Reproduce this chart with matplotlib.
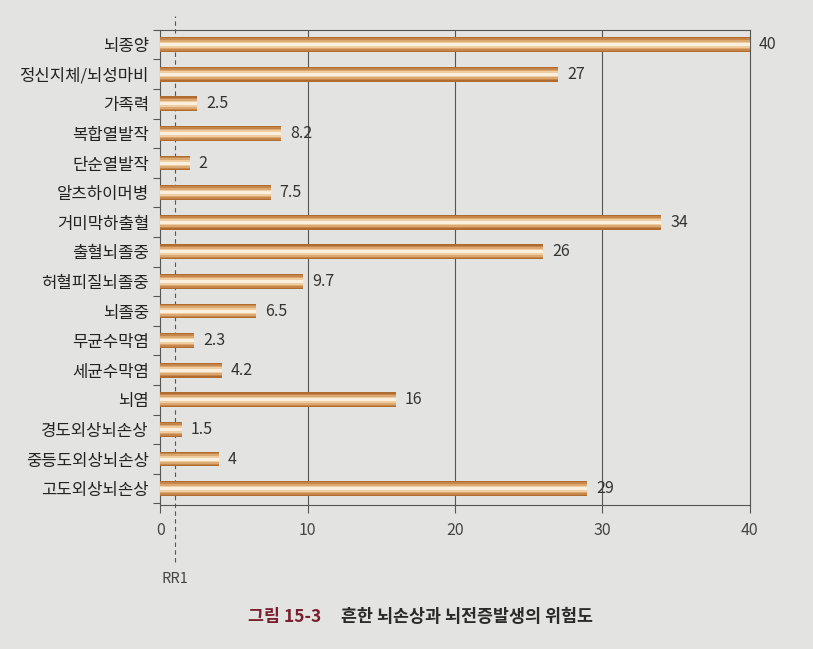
import matplotlib
matplotlib.use("Agg")
import matplotlib.pyplot as plt
import numpy as np

plt.rcParams['font.family'] = ['Noto Sans CJK KR', 'DejaVu Sans']

categories = ["뇌종양", "정신지체/뇌성마비", "가족력", "복합열발작", "단순열발작",
              "알츠하이머병", "거미막하출혈", "출혈뇌졸중", "허혈피질뇌졸중", "뇌졸중",
              "무균수막염", "세균수막염", "뇌염", "경도외상뇌손상", "중등도외상뇌손상",
              "고도외상뇌손상"]
values = [40, 27, 2.5, 8.2, 2, 7.5, 34, 26, 9.7, 6.5, 2.3, 4.2, 16, 1.5, 4, 29]
value_labels = ["40", "27", "2.5", "8.2", "2", "7.5", "34", "26", "9.7", "6.5",
                "2.3", "4.2", "16", "1.5", "4", "29"]
xticks = [0, 10, 20, 30, 40]
rr_line = 1
caption_num = "그림 15-3"
caption_text = "흔한 뇌손상과 뇌전증발생의 위험도"

bg = "#e3e4e2"
fig = plt.figure(figsize=(8.13, 6.49), dpi=100, facecolor=bg)
ax = fig.add_axes([0.197, 0.222, 0.725, 0.732], facecolor=bg)

y = np.arange(len(categories))
layers = [(0.50, "#b06c2e"), (0.42, "#c78649"), (0.32, "#dca872"),
          (0.21, "#eecda2"), (0.10, "#fbf0de")]
for h, c in layers:
    ax.barh(y, values, height=h, color=c, linewidth=0, zorder=3)

for yi, v, lab in zip(y, values, value_labels):
    ax.text(v + 0.6, yi, lab, va="center", ha="left", fontsize=11.5,
            color="#333333", zorder=4)

ax.set_xlim(0, 40)
ax.set_ylim(15.55, -0.5)
ax.set_xticks(xticks)
ax.set_xticklabels([str(t) for t in xticks], fontsize=11.5, color="#444444")
ax.tick_params(axis="x", length=6, width=0.8, color="#555555", pad=6)

ax.set_yticks(y)
ax.set_yticklabels(categories, fontsize=12, color="#222222")
ax.tick_params(axis="y", length=0, pad=8)
ax.set_yticks(np.arange(-0.5, len(categories), 1.0), minor=True)
ax.tick_params(axis="y", which="minor", length=5, width=0.8, color="#555555")

for t in xticks[1:-1]:
    ax.axvline(t, color="#555555", lw=0.8, zorder=1)

for s in ax.spines.values():
    s.set_color("#555555")
    s.set_linewidth(0.8)

ax.axvline(rr_line, ymin=-0.12, ymax=1.03, color="#555555", lw=0.8,
           ls=(0, (4, 3)), clip_on=False, zorder=2)
ax.text(rr_line, 15.55 + 2.5, "RR1", ha="center", va="center", fontsize=10.5,
        color="#444444", clip_on=False)

fig.text(0.305, 0.05, caption_num, fontsize=12.5, fontweight="bold",
         color="#7a1f2e", ha="left", va="center")
fig.text(0.42, 0.05, caption_text, fontsize=12.5, fontweight="bold",
         color="#2a2a2a", ha="left", va="center")

fig.savefig("out.png", dpi=100, facecolor=bg)
